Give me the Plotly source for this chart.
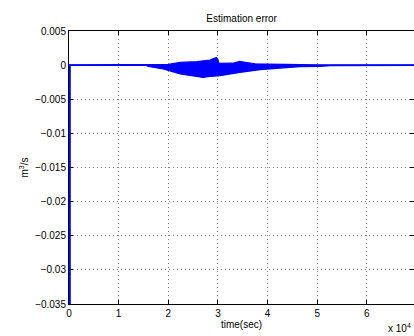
import plotly.graph_objects as go

# time in seconds
t_lower = [0, 50, 15500, 16000, 19000, 22400, 25800, 27000, 28400, 30400, 34400,
           38500, 42500, 46500, 50600, 52600, 69500]
err_lower = [-0.00005, -0.00005, -0.00005, -0.00019, -0.00057, -0.0013, -0.0017, -0.0018,
             -0.00166, -0.00155, -0.00107, -0.00067, -0.00043, -0.00023, -0.00019,
             -0.00008, -0.00005]

t_upper = [0, 15500, 16000, 20000, 22400, 25800, 28400, 29300, 29700, 30000, 30200,
           33000, 34400, 35500, 36500, 37500, 40000, 45000, 50000, 69500]
err_upper = [0.00005, 0.00005, 0.0001, 0.0001, 0.0004, 0.0005, 0.00075, 0.00094,
             0.00113, 0.0008, 0.00025, 0.00028, 0.00054, 0.00042, 0.00035, 0.0002,
             0.00015, 0.0001, 0.00005, 0.00005]

# initial transient at t = 0
t_start = [60, 60]
err_start = [0.0, -0.04]

x_ticks = [0, 10000, 20000, 30000, 40000, 50000, 60000, 70000]
x_ticktext = ["0", "1", "2", "3", "4", "5", "6", "7"]
y_ticks = [0.005, 0, -0.005, -0.01, -0.015, -0.02, -0.025, -0.03, -0.035]
y_ticktext = ["0.005", "0", "\u22120.005", "\u22120.01", "\u22120.015", "\u22120.02",
              "\u22120.025", "\u22120.03", "\u22120.035"]

blue = "#0000ff"
fig = go.Figure()
fig.add_trace(go.Scatter(x=t_lower, y=err_lower, mode="lines",
                         line=dict(color=blue, width=1.2), showlegend=False))
fig.add_trace(go.Scatter(x=t_upper, y=err_upper, mode="lines", fill="tonexty",
                         fillcolor=blue, line=dict(color=blue, width=1.2),
                         showlegend=False))
fig.add_trace(go.Scatter(x=t_start, y=err_start, mode="lines",
                         line=dict(color=blue, width=3), showlegend=False))

font = dict(family="Liberation Sans, Arial, sans-serif", size=10, color="#000000")
axis_common = dict(showline=True, linecolor="#000000", linewidth=1, mirror="ticks",
                   ticks="inside", ticklen=4, tickcolor="#000000",
                   showgrid=True, gridcolor="#808080", gridwidth=1, griddash="1px,3px",
                   zeroline=False, tickfont=font, layer="below traces")

fig.update_layout(
    width=414, height=336,
    margin=dict(l=69, r=0, t=31, b=32),
    paper_bgcolor="white", plot_bgcolor="white",
    font=font,
    title=dict(text="Estimation error", x=0.5837, xanchor="center", y=1 - 18/336,
               yanchor="middle", font=dict(size=10, color="#000000")),
    xaxis=dict(range=[0, 69500], tickvals=x_ticks, ticktext=x_ticktext,
               title=dict(text="time(sec)", standoff=2, font=font), **axis_common),
    yaxis=dict(range=[-0.035, 0.005], tickvals=y_ticks, ticktext=y_ticktext,
               title=dict(text="m<sup>3</sup>/s", standoff=4, font=font), **axis_common),
    annotations=[dict(text="x 10<sup>4</sup>", xref="paper", yref="paper",
                      x=1.0, y=-0.06, xanchor="right", yanchor="top", xshift=-1,
                      showarrow=False, font=font)],
)
fig.write_html("out.html")
